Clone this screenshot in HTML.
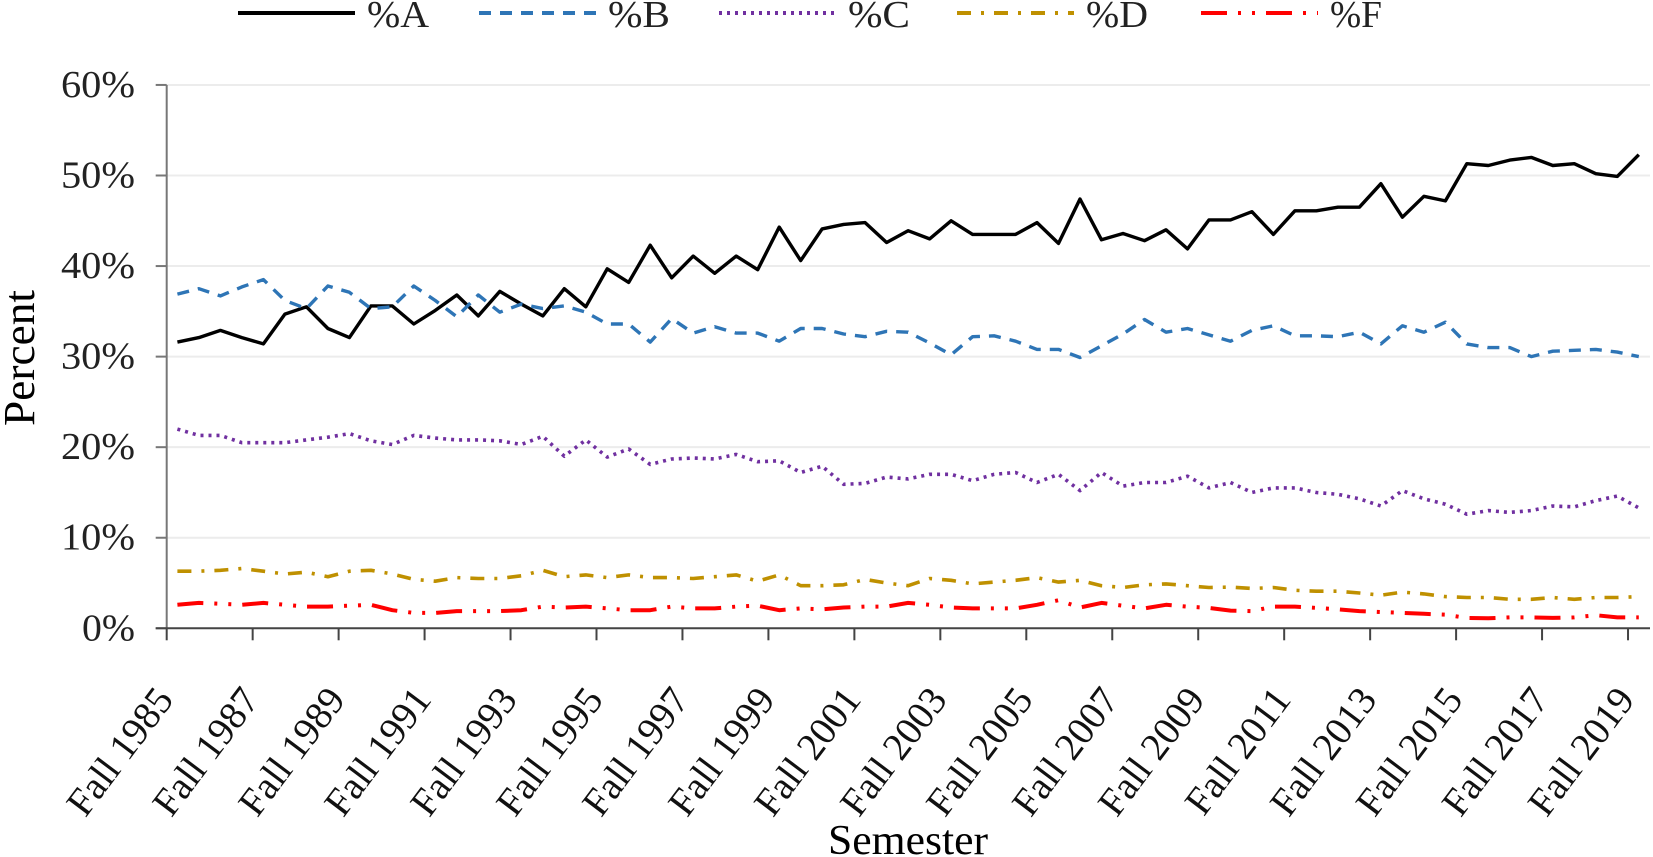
<!DOCTYPE html>
<html><head><meta charset="utf-8"><style>
html,body{margin:0;padding:0;background:#fff;}
svg{display:block;font-family:"Liberation Serif",serif;}
</style></head><body>
<svg id="chart" width="1653" height="857" viewBox="0 0 1653 857" xmlns="http://www.w3.org/2000/svg">
<g id="grid"></g>
<g id="yaxis"></g>
<g id="xaxis"></g>
<g id="series"></g>
<g id="legend"></g>
<text transform="translate(34,358) rotate(-90)" text-anchor="middle" font-size="44" textLength="136" lengthAdjust="spacingAndGlyphs">Percent</text>
<text x="908" y="854" text-anchor="middle" font-size="42" textLength="160" lengthAdjust="spacingAndGlyphs">Semester</text>
</svg>
<script>
const yTicks = [0, 10, 20, 30, 40, 50, 60];
const xLabels = ["Fall 1985","Fall 1987","Fall 1989","Fall 1991","Fall 1993","Fall 1995","Fall 1997","Fall 1999","Fall 2001","Fall 2003","Fall 2005","Fall 2007","Fall 2009","Fall 2011","Fall 2013","Fall 2015","Fall 2017","Fall 2019"];
const seriesNames = ["%A","%B","%C","%D","%F"];
const gradeA = [31.6,32.1,32.9,32.1,31.4,34.7,35.5,33.1,32.1,35.6,35.6,33.6,35.1,36.8,34.5,37.2,35.8,34.5,37.5,35.5,39.7,38.2,42.3,38.7,41.1,39.2,41.1,39.6,44.3,40.6,44.1,44.6,44.8,42.6,43.9,43.0,45.0,43.5,43.5,43.5,44.8,42.5,47.4,42.9,43.6,42.8,44.0,41.9,45.1,45.1,46.0,43.5,46.1,46.1,46.5,46.5,49.1,45.4,47.7,47.2,51.3,51.1,51.7,52.0,51.1,51.3,50.2,49.9,52.3];
const gradeB = [36.9,37.5,36.7,37.7,38.5,36.2,35.3,37.8,37.1,35.3,35.5,37.8,36.2,34.4,36.8,34.9,35.8,35.3,35.6,34.9,33.6,33.6,31.6,34.2,32.6,33.3,32.6,32.6,31.7,33.1,33.1,32.5,32.2,32.8,32.7,31.5,30.2,32.2,32.3,31.7,30.8,30.8,29.9,31.2,32.5,34.1,32.7,33.1,32.4,31.7,32.9,33.4,32.3,32.3,32.2,32.7,31.4,33.4,32.7,33.8,31.4,31.0,31.0,30.0,30.6,30.7,30.8,30.5,30.0];
const gradeC = [22.0,21.3,21.3,20.5,20.5,20.5,20.8,21.1,21.5,20.7,20.3,21.3,21.0,20.8,20.8,20.7,20.3,21.2,19.0,20.8,18.9,19.8,18.1,18.7,18.8,18.7,19.2,18.4,18.5,17.2,17.9,15.9,16.0,16.7,16.5,17.0,17.0,16.3,17.0,17.2,16.1,17.0,15.2,17.2,15.7,16.1,16.1,16.8,15.5,16.1,15.0,15.5,15.5,15.0,14.8,14.3,13.5,15.2,14.3,13.7,12.6,13.0,12.8,13.0,13.5,13.4,14.1,14.6,13.3];
const gradeD = [6.3,6.3,6.4,6.6,6.3,6.0,6.2,5.7,6.3,6.4,6.0,5.4,5.2,5.6,5.5,5.5,5.8,6.4,5.7,5.9,5.6,5.9,5.6,5.6,5.5,5.7,5.9,5.2,5.9,4.7,4.7,4.8,5.4,5.0,4.7,5.5,5.3,4.9,5.1,5.3,5.6,5.1,5.3,4.7,4.5,4.8,4.9,4.7,4.5,4.55,4.4,4.5,4.2,4.1,4.1,3.9,3.65,4.0,3.8,3.5,3.4,3.4,3.2,3.2,3.4,3.2,3.4,3.4,3.5];
const gradeF = [2.6,2.8,2.7,2.6,2.8,2.6,2.4,2.4,2.5,2.6,2.0,1.7,1.7,1.9,1.9,1.9,2.0,2.4,2.3,2.4,2.2,2.0,2.0,2.4,2.2,2.2,2.4,2.5,2.0,2.2,2.1,2.3,2.4,2.4,2.8,2.6,2.3,2.2,2.2,2.2,2.6,3.1,2.3,2.8,2.5,2.2,2.6,2.4,2.25,1.95,1.9,2.4,2.4,2.25,2.1,1.9,1.8,1.7,1.6,1.5,1.15,1.1,1.2,1.2,1.15,1.2,1.45,1.2,1.2];

const NS = "http://www.w3.org/2000/svg";
const X0 = 166.7, X1 = 1650, CAT = 21.49;
const Y0 = 628.3, YPER = 9.056;
function xPos(i){ return X0 + CAT/2 + CAT*i; }
function yPos(v){ return Y0 - v*YPER; }
function mk(tag, attrs, parent){ const e=document.createElementNS(NS,tag); for(const k in attrs) e.setAttribute(k,attrs[k]); parent.appendChild(e); return e; }

const grid = document.getElementById('grid');
const yaxis = document.getElementById('yaxis');
const xaxis = document.getElementById('xaxis');
yTicks.forEach(t => {
  if (t > 0) {
    const g = mk('line',{x1:X0,x2:X1,y1:yPos(t),y2:yPos(t),stroke:'#ececec','stroke-width':2},grid);
    
    
  }
  const tk = mk('line',{x1:X0-11,x2:X0,y1:yPos(t),y2:yPos(t),stroke:'#777','stroke-width':2},yaxis);
  
  
  const lb = mk('text',{x:135,y:yPos(t)+12,'text-anchor':'end','font-size':38,textLength:t===0?53:74,lengthAdjust:'spacingAndGlyphs',fill:'#222'},yaxis);
  lb.textContent = t + '%';
  
  
});
mk('line',{x1:X0,x2:X0,y1:yPos(60),y2:Y0+1,stroke:'#777','stroke-width':2},yaxis);
mk('line',{x1:X0-11,x2:X1,y1:Y0,y2:Y0,stroke:'#444','stroke-width':2},xaxis);
xLabels.forEach((lab,k) => {
  const tx = X0 + k*4*CAT;
  const tk = mk('line',{x1:tx,x2:tx,y1:Y0,y2:Y0+12,stroke:'#444','stroke-width':2},xaxis);
  
  
  const t = mk('text',{transform:`translate(${tx+8},${700}) rotate(-53)`,'text-anchor':'end','font-size':39,fill:'#111'},xaxis);
  t.textContent = lab;
  
  
});

const styles = [
  {data:gradeA,color:'#000000',w:3.4,dash:'',cap:'butt'},
  {data:gradeB,color:'#2E75B6',w:3.4,dash:'12 9',cap:'butt'},
  {data:gradeC,color:'#7030A0',w:3.6,dash:'3 5',cap:'butt'},
  {data:gradeD,color:'#BF9000',w:3.6,dash:'14 10 3 10',cap:'butt'},
  {data:gradeF,color:'#FF0000',w:4,dash:'26 11 3 11 3 11',cap:'butt'}
];
const sg = document.getElementById('series');
styles.forEach((s,si) => {
  const d = s.data.map((v,i)=>(i?'L':'M')+xPos(i).toFixed(1)+','+yPos(v).toFixed(1)).join(' ');
  const p = mk('path',{d:d,fill:'none',stroke:s.color,'stroke-width':s.w,'stroke-dasharray':s.dash,'stroke-linejoin':'round','stroke-linecap':s.cap},sg);
  
  
});

const lg = document.getElementById('legend');
const legX = [238,479,719,957,1201];
styles.forEach((s,si) => {
  const x = legX[si];
  const ln = mk('line',{x1:x,x2:x+117,y1:13,y2:13,stroke:s.color,'stroke-width':4,'stroke-dasharray':s.dash},lg);
  
  
  const t = mk('text',{x:x+129,y:27,'font-size':38,textLength:si===4?52:62,lengthAdjust:'spacingAndGlyphs',fill:'#222'},lg);
  t.textContent = seriesNames[si];
  
  
});
</script>
</body></html>
